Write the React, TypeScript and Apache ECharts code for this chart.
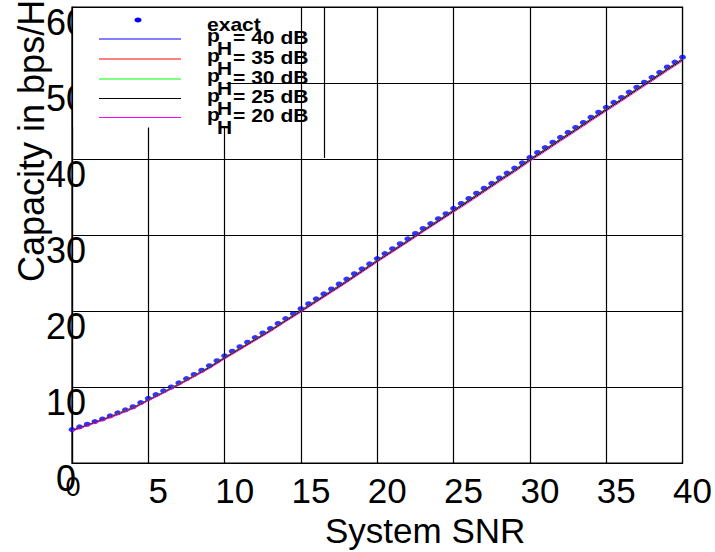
import React, { useEffect, useRef } from "react";
import * as echarts from "echarts";

const snrHalf = [0,0.5,1,1.5,2,2.5,3,3.5,4,4.5,5,5.5,6,6.5,7,7.5,8,8.5,9,9.5,10,10.5,11,11.5,12,12.5,13,13.5,14,14.5,15,15.5,16,16.5,17,17.5,18,18.5,19,19.5,20,20.5,21,21.5,22,22.5,23,23.5,24,24.5,25,25.5,26,26.5,27,27.5,28,28.5,29,29.5,30,30.5,31,31.5,32,32.5,33,33.5,34,34.5,35,35.5,36,36.5,37,37.5,38,38.5,39,39.5,40];
const exactCap = [4.4,4.75,5.1,5.45,5.8,6.2,6.6,7.0,7.4,7.95,8.5,
  9.0,9.5,10.0,10.55,11.1,11.65,12.2,12.8,13.45,14.1,
  14.7,15.3,15.9,16.5,17.1,17.7,18.35,19.0,19.65,20.3,
  20.95,21.6,22.25,22.9,23.55,24.2,24.9,25.55,26.2,26.9,
  27.55,28.2,28.85,29.5,30.2,30.85,31.5,32.15,32.8,33.5,
  34.15,34.8,35.5,36.15,36.8,37.5,38.15,38.8,39.5,40.2,
  40.85,41.5,42.2,42.85,43.5,44.15,44.8,45.5,46.15,46.8,
  47.45,48.1,48.8,49.45,50.1,50.75,51.4,52.1,52.75,53.4];

const snrInt = [0,1,2,3,4,5,6,7,8,9,10,11,12,13,14,15,16,17,18,19,20,21,22,23,24,25,26,27,28,29,30,31,32,33,34,35,36,37,38,39,40];
const cap40 = [4.3,5.0,5.7,6.5,7.3,8.35,9.35,10.4,11.5,12.65,13.9,15.1,16.3,17.5,18.8,20.1,21.4,22.7,24.0,25.35,26.7,28.0,29.3,30.65,31.95,33.3,34.6,35.95,37.3,38.6,40.0,41.3,42.65,43.95,45.3,46.6,47.9,49.25,50.55,51.9,53.2];
const cap35 = [4.3,5.0,5.7,6.5,7.3,8.3,9.3,10.4,11.5,12.6,13.9,15.1,16.3,17.5,18.8,20.05,21.35,22.65,23.95,25.3,26.65,27.95,29.25,30.6,31.9,33.25,34.55,35.9,37.25,38.55,39.95,41.25,42.6,43.9,45.25,46.55,47.85,49.2,50.5,51.85,53.15];
const cap30 = [4.25,4.95,5.65,6.45,7.25,8.3,9.3,10.35,11.45,12.6,13.85,15.05,16.25,17.45,18.75,20.0,21.3,22.6,23.9,25.25,26.6,27.9,29.2,30.55,31.85,33.2,34.5,35.85,37.2,38.5,39.9,41.2,42.55,43.85,45.2,46.5,47.8,49.15,50.45,51.8,53.1];
const cap25 = [4.25,4.95,5.65,6.4,7.2,8.25,9.25,10.3,11.4,12.55,13.8,15.0,16.2,17.4,18.7,19.95,21.25,22.55,23.85,25.2,26.55,27.85,29.15,30.5,31.8,33.15,34.45,35.8,37.15,38.45,39.85,41.15,42.5,43.8,45.15,46.45,47.75,49.1,50.4,51.75,53.05];
const cap20 = [4.2,4.9,5.6,6.35,7.15,8.2,9.2,10.25,11.35,12.45,13.7,14.9,16.1,17.3,18.6,19.85,21.15,22.45,23.75,25.1,26.45,27.75,29.05,30.4,31.7,33.0,34.3,35.65,37.0,38.3,39.7,41.0,42.35,43.65,45.0,46.3,47.6,48.95,50.25,51.6,52.9];

const legendLabels = ["= 40 dB", "= 35 dB", "= 30 dB", "= 25 dB", "= 20 dB"];
const lineColors = ["#0000ff", "#ff0000", "#00ff00", "#000000", "#ff00ff"];
const lineData = [cap40, cap35, cap30, cap25, cap20];

const FONT = "'Liberation Sans', Arial, sans-serif";

export default function App() {
  const ref = useRef<HTMLDivElement>(null);
  useEffect(() => {
    if (!ref.current) return;
    const chart = echarts.init(ref.current, undefined, { renderer: "svg" });
    const legendRowsY = [39, 59, 79, 98.5, 117.5];
    const legendGraphics: any[] = [
      { type: "rect", z: 100, shape: { x: 72.5, y: 7.5, width: 154, height: 120 }, style: { fill: "#fff" } },
      { type: "line", z: 101, shape: { x1: 324.5, y1: 7, x2: 324.5, y2: 158 }, style: { stroke: "#000", lineWidth: 1.2 } },
      { type: "line", z: 101, shape: { x1: 72.5, y1: 7.5, x2: 230, y2: 7.5 }, style: { stroke: "#000", lineWidth: 1.2 } },
      { type: "line", z: 101, shape: { x1: 72.5, y1: 7, x2: 72.5, y2: 128 }, style: { stroke: "#000", lineWidth: 1.2 } },
      { type: "ellipse", z: 102, shape: { cx: 138, cy: 20, rx: 3.5, ry: 2.5 }, style: { fill: "#0000ff" } },
      { type: "text", z: 102, x: 207, y: 25, scaleX: 1.17, style: { text: "exact", font: `bold 18px ${FONT}`, fill: "#000", verticalAlign: "middle", align: "left" } },
    ];
    legendRowsY.forEach((ly, i) => {
      legendGraphics.push(
        { type: "line", z: 102, shape: { x1: 99, y1: ly, x2: 181, y2: ly }, style: { stroke: lineColors[i], lineWidth: 1 } },
        { type: "text", z: 102, x: 207, y: ly - 3, scaleX: 1.17, style: { text: "p", font: `bold 18px ${FONT}`, fill: "#000", verticalAlign: "middle", align: "left" } },
        { type: "text", z: 103, x: 217, y: ly + 9.5, scaleX: 1.1, style: { text: "H", font: `bold 19px ${FONT}`, fill: "#000", verticalAlign: "middle", align: "left" } },
        { type: "text", z: 102, x: 233, y: ly - 1.5, scaleX: 1.17, style: { text: legendLabels[i], font: `bold 18px ${FONT}`, fill: "#000", verticalAlign: "middle", align: "left" } }
      );
    });

    const option: any = {
      animation: false,
      backgroundColor: "#fff",
      grid: { left: 72, top: 7, right: 32, bottom: 89, show: true, borderColor: "#000", borderWidth: 1.2, backgroundColor: "transparent" },
      xAxis: {
        type: "value", min: 0, max: 40, interval: 5,
        axisLine: { show: true, lineStyle: { color: "#000", width: 1.2 } },
        axisTick: { show: false },
        splitLine: { show: true, lineStyle: { color: "#000", width: 1.2 } },
        axisLabel: {
          color: "#000", fontSize: 35, fontFamily: FONT, margin: 10, align: "center", verticalAlign: "top",
          formatter: (v: number) => (v === 0 ? "{z|0}" : `{n|${v}}`),
          rich: {
            n: { fontSize: 35, fontFamily: FONT, color: "#000", padding: [0, 0, 0, 20] },
            z: { fontSize: 27, fontFamily: FONT, color: "#000", padding: [0, 0, 0, 2] },
          },
        },
      },
      yAxis: {
        type: "value", min: 0, max: 60, interval: 10,
        axisLine: { show: true, lineStyle: { color: "#000", width: 1.2 } },
        axisTick: { show: false },
        splitLine: { show: true, lineStyle: { color: "#000", width: 1.2 } },
        axisLabel: { color: "#000", fontSize: 36, fontFamily: FONT, margin: 6, align: "center", verticalAlign: "top", lineHeight: 30 },
      },
      series: [
        {
          type: "scatter", name: "exact",
          data: snrHalf.map((x, i) => [x, exactCap[i]]),
          symbol: "circle", symbolSize: [7, 5],
          itemStyle: { color: "#0000ff" }, z: 2,
        },
        ...lineData.map((arr, k) => ({
          type: "line", name: legendLabels[k],
          data: snrInt.map((x, i) => [x, arr[i]]),
          showSymbol: false, symbol: "none",
          lineStyle: { color: lineColors[k], width: 1 },
          itemStyle: { color: lineColors[k] }, z: 3 + k,
        })),
      ],
      graphic: [
        { type: "text", z: 50, x: 31, y: 282, rotation: Math.PI / 2, style: { text: "Capacity in bps/Hz", font: `36px ${FONT}`, fill: "#000", align: "left", verticalAlign: "middle" } },
        { type: "text", z: 50, x: 325, y: 530, style: { text: "System SNR", font: `35px ${FONT}`, fill: "#000", align: "left", verticalAlign: "middle" } },
        ...legendGraphics,
      ],
    };
    chart.setOption(option);
    return () => chart.dispose();
  }, []);
  return <div ref={ref} style={{ width: 715, height: 552, position: "absolute", left: 0, top: 0 }} />;
}
